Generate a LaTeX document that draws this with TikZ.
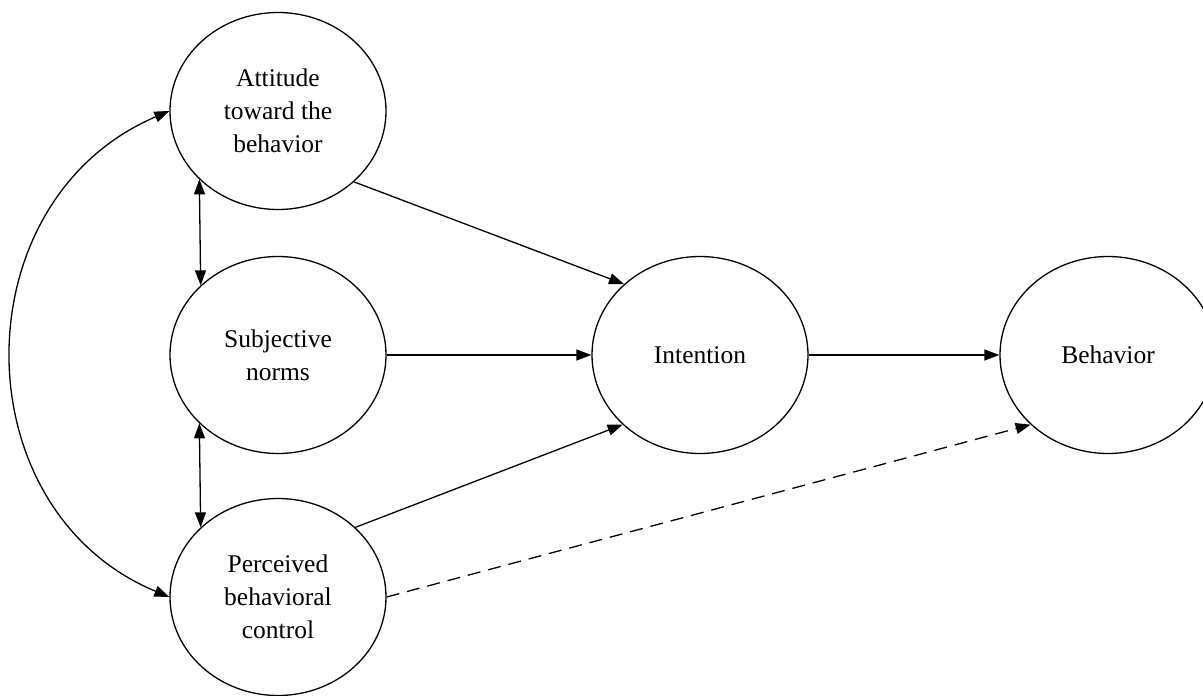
\documentclass[tikz,border=0pt]{standalone}
\usepackage{fontspec}
\setmainfont{Liberation Serif}
\usetikzlibrary{shapes.geometric,arrows.meta}
\begin{document}
\begin{tikzpicture}[x=1pt,y=-1pt,
  construct/.style={ellipse,draw,line width=1.3pt,minimum width=216pt,minimum height=197pt,inner sep=0pt,
    align=center,font=\fontsize{25.5}{33}\selectfont},
  link/.style={line width=1.3pt,-{Triangle[length=15pt,width=11pt]}},
  dlink/.style={line width=1.3pt,{Triangle[length=15pt,width=11pt]}-{Triangle[length=15pt,width=11pt]}}]
\useasboundingbox (0,0) rectangle (1203,696);
\node[construct] (att) at (278,111) {Attitude\\toward the\\behavior};
\node[construct] (sub) at (278,355) {Subjective\\norms};
\node[construct] (pbc) at (278,597) {Perceived\\behavioral\\control};
\node[construct] (int) at (700,355) {Intention};
\node[construct] (beh) at (1108,355) {Behavior};
\draw[dlink] (att.221.3) -- (sub.138.7);
\draw[dlink] (sub.221.3) -- (pbc.138.7);
\draw[link] (att.317.3) -- (int.137.5);
\draw[link] (sub.east) -- (int.west);
\draw[link] (pbc.42) -- (int.222.4);
\draw[link] (int.east) -- (beh.west);
\draw[link,dash pattern=on 13pt off 8pt] (pbc.east) -- (beh.222);
\draw[dlink] (att.west) .. controls (-40,200) and (-40,510) .. (pbc.west);
\end{tikzpicture}
\end{document}
